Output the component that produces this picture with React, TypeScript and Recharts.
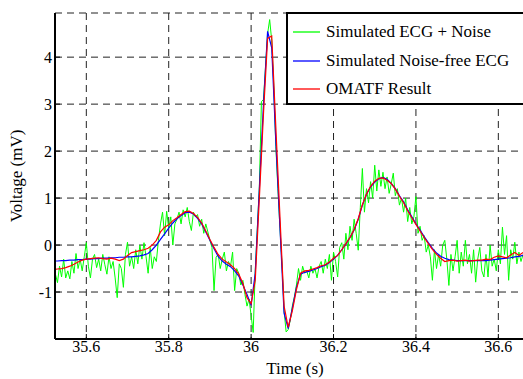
import { LineChart, Line, XAxis, YAxis, CartesianGrid } from "recharts";

// sampling grid
const T0 = 35.52;
const fineStep = 0.005;
const coarseStep = 0.01;

const xTicks = [35.6, 35.8, 36, 36.2, 36.4, 36.6];
const yTicks = [-1, 0, 1, 2, 3, 4];

// green trace, 0.005 s step from 35.52 s
const noisy = [
  -0.75, -0.62, -0.8, -0.45, -0.68, -0.3, -0.7, -0.55, -0.72, -0.35,
  -0.6, -0.18, -0.5, -0.3, -0.55, -0.25, 0.05, -0.45, -0.7, -0.3,
  -0.2, -0.48, -0.3, -0.55, -0.2, -0.42, -0.62, -0.25, -0.5, -0.35,
  -0.7, -1.12, -0.4, -0.5, -0.9, -0.2, 0.06, -0.45, -0.25, -0.5,
  -0.1, -0.4, 0.0, -0.3, 0.05, -0.25, -0.6, -0.05, -0.5, -0.25,
  -0.35, 0.1, 0.45, 0.7, 0.2, 0.72, 0.35, 0.6, 0.0, 0.45,
  0.55, 0.7, 0.45, 0.75, 0.6, 0.8, 0.5, 0.31, 0.7, 0.6,
  0.65, 0.4, 0.55, 0.25, 0.45, 0.28, 0.1, -0.05, -0.97, -0.26,
  -0.2, -0.5, -0.3, -0.15, -0.55, -0.35, -0.45, -0.15, -0.97, -0.5,
  -0.6, -0.85, -0.75, -1.05, -1.3, -1.15, -1.5, -1.86, -0.55, 0.35,
  1.25, 3.05, 3.1, 3.8, 4.5, 4.8, 4.35, 3.4, 2.1, 1.2,
  0.35, -0.4, -1.4, -1.85, -1.8, -1.6, -1.3, -1.1, -0.85, -0.5,
  -0.75, -0.45, -0.6, -0.55, -0.7, -0.45, -0.6, -0.5, -0.7, -0.45,
  -0.35, -0.6, -0.3, -0.5, -0.2, -0.75, -0.15, -0.35, -0.68, -0.05,
  0.05, -0.3, 0.25, -0.1, 0.4, 0.1, 0.55, 0.25, -0.11, 0.8,
  1.63, 0.7, 1.2, 0.9, 1.35, 1.0, 1.7, 1.15, 1.6, 1.25,
  1.55, 1.2, 1.45, 1.1, 1.3, 1.53, 1.05, 1.2, 0.85, 1.0,
  0.7, 1.0, 0.5, 0.8, 0.45, 0.6, 1.03, 0.25, 0.4, 0.1,
  0.2, -0.15, 0.0, -0.25, -0.75, -0.1, -0.5, -0.2, -0.45, 0.0,
  0.1, -0.3, -0.86, -0.2, -0.55, -0.25, 0.1, -0.6, -0.15, -0.45,
  0.1, -0.4, -0.2, -0.6, -0.1, -0.79, -0.3, -0.05, -0.55, -0.68,
  -0.2, -0.68, 0.0, -0.45, -0.3, -0.55, -0.1, -0.4, 0.38, -0.2,
  0.2, -0.75, -0.1, -0.3, 0.06, -0.4, -0.15, -0.35, -0.2,
];

// blue trace, 0.01 s step from 35.52 s
const clean = [
  -0.34, -0.34, -0.33, -0.33, -0.32, -0.32, -0.31, -0.31, -0.3, -0.3,
  -0.29, -0.29, -0.28, -0.28, -0.27, -0.27, -0.26, -0.26, -0.25, -0.25,
  -0.24, -0.23, -0.21, -0.18, -0.1, 0.0, 0.12, 0.24, 0.36, 0.47,
  0.56, 0.63, 0.69, 0.7, 0.66, 0.57, 0.45, 0.28, 0.1, -0.08,
  -0.24, -0.34, -0.41, -0.46, -0.55, -0.66, -0.85, -1.05, -1.28, -0.6,
  1.2, 3.0, 4.55, 4.2, 2.2, 0.38, -1.45, -1.78, -1.35, -0.9,
  -0.62, -0.58, -0.56, -0.53, -0.5, -0.46, -0.43, -0.37, -0.3, -0.22,
  -0.1, 0.02, 0.16, 0.32, 0.55, 0.85, 1.08, 1.24, 1.34, 1.41,
  1.44, 1.4, 1.31, 1.2, 1.05, 0.92, 0.75, 0.6, 0.45, 0.32,
  0.18, 0.05, -0.07, -0.17, -0.24, -0.28, -0.31, -0.32, -0.33, -0.33,
  -0.33, -0.33, -0.33, -0.33, -0.33, -0.33, -0.32, -0.31, -0.3, -0.29,
  -0.28, -0.27, -0.25, -0.24, -0.22,
];

// red trace (filter output), 0.01 s step from 35.52 s
const filtered = [
  -0.52, -0.51, -0.5, -0.48, -0.45, -0.41, -0.36, -0.32, -0.3, -0.29,
  -0.28, -0.27, -0.29, -0.3, -0.28, -0.3, -0.33, -0.3, -0.22, -0.16,
  -0.14, -0.12, -0.1, -0.07, 0.0, 0.1, 0.28, 0.38, 0.43, 0.52,
  0.58, 0.65, 0.71, 0.72, 0.67, 0.59, 0.47, 0.3, 0.12, -0.05,
  -0.2, -0.3, -0.36, -0.42, -0.5, -0.62, -0.82, -1.12, -1.25, -0.75,
  1.0, 2.8, 4.4, 4.45, 2.5, 0.6, -1.3, -1.75, -1.4, -0.95,
  -0.6, -0.55, -0.54, -0.51, -0.48, -0.44, -0.42, -0.36, -0.28, -0.22,
  -0.1, 0.03, 0.16, 0.33, 0.56, 0.86, 1.08, 1.25, 1.36, 1.42,
  1.43, 1.38, 1.31, 1.19, 1.04, 0.9, 0.73, 0.58, 0.44, 0.3,
  0.16, 0.03, -0.09, -0.2, -0.28, -0.35, -0.33, -0.32, -0.34, -0.33,
  -0.32, -0.34, -0.33, -0.32, -0.32, -0.3, -0.31, -0.26, -0.23, -0.25,
  -0.27, -0.21, -0.16, -0.22, -0.16,
];

const toRows = (vals: number[], step: number) =>
  vals.map((v, i) => ({ t: +(T0 + i * step).toFixed(3), v }));

const series = [
  { name: "Simulated ECG + Noise", color: "#00ff00", width: 1, data: toRows(noisy, fineStep) },
  { name: "Simulated Noise-free ECG", color: "#0000ff", width: 1.2, data: toRows(clean, coarseStep) },
  { name: "OMATF Result", color: "#ff0000", width: 1.2, data: toRows(filtered, coarseStep) },
];

const font = '"Liberation Serif", "DejaVu Serif", serif';

function LegendBox() {
  return (
    <div
      style={{
        position: "absolute",
        left: 286,
        top: 12,
        width: 250,
        height: 89,
        border: "2px solid #000",
        background: "#fff",
        fontFamily: font,
        fontSize: 17,
        color: "#000",
      }}
    >
      {series.map((s, i) => (
        <div
          key={s.name}
          style={{ position: "absolute", left: 5, top: 6 + i * 28.5, height: 24, display: "flex", alignItems: "center" }}
        >
          <svg width={27} height={4} style={{ marginRight: 6 }}>
            <line x1={0} y1={2} x2={27} y2={2} stroke={s.color} strokeWidth={1.3} />
          </svg>
          <span style={{ whiteSpace: "nowrap" }}>{s.name}</span>
        </div>
      ))}
    </div>
  );
}

export default function App() {
  return (
    <div
      style={{
        position: "absolute",
        left: 0,
        top: 0,
        width: 523,
        height: 379,
        overflow: "hidden",
        background: "#fff",
        fontFamily: font,
      }}
    >
      <LineChart width={545} height={379} margin={{ top: 13, right: 10, bottom: 0, left: 0 }} style={{ fontFamily: font }}>
        <CartesianGrid stroke="#222" strokeDasharray="7 5" strokeWidth={1} />
        <XAxis
          dataKey="t"
          type="number"
          domain={[35.524, 36.689]}
          ticks={xTicks}
          allowDataOverflow
          height={40}
          axisLine={{ stroke: "#000", strokeWidth: 2 }}
          tickLine={{ stroke: "#000" }}
          tickSize={-5}
          tickMargin={7}
          tick={{ fontSize: 16, fill: "#000" }}
          label={{ value: "Time (s)", position: "insideBottom", offset: 5, fontSize: 17, fill: "#000" }}
        />
        <XAxis
          xAxisId="top"
          orientation="top"
          dataKey="t"
          type="number"
          domain={[35.524, 36.689]}
          ticks={xTicks}
          height={0}
          tick={{ fontSize: 0, fill: "none" }}
          tickLine={{ stroke: "#000" }}
          tickSize={-5}
          axisLine={{ stroke: "#000", strokeWidth: 2 }}
        />
        <YAxis
          type="number"
          domain={[-2, 4.94]}
          ticks={yTicks}
          allowDataOverflow
          width={55}
          axisLine={{ stroke: "#000", strokeWidth: 2 }}
          tickLine={{ stroke: "#000" }}
          tickSize={-5}
          tickMargin={8}
          tick={{ fontSize: 16, fill: "#000" }}
          label={{ value: "Voltage (mV)", angle: -90, position: "insideLeft", offset: 16, fontSize: 17, fill: "#000", style: { textAnchor: "middle" } }}
        />
        {series.map((s) => (
          <Line
            key={s.name}
            data={s.data}
            dataKey="v"
            name={s.name}
            stroke={s.color}
            strokeWidth={s.width}
            dot={false}
            activeDot={false}
            isAnimationActive={false}
          />
        ))}
      </LineChart>
      <LegendBox />
    </div>
  );
}
